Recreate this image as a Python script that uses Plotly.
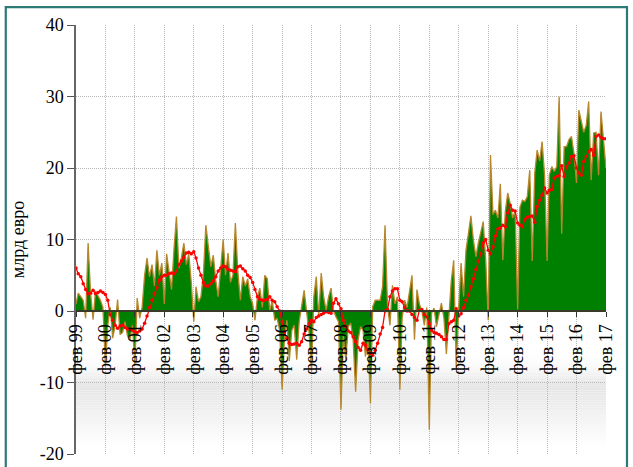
import plotly.graph_objects as go
import pandas as pd

# Monthly balance, bn EUR, Feb 1999 .. Feb 2017
trade_balance = [
    1.0, 2.5, 2.0, 1.5, -1.0, 9.5, 2.5, -1.2, 2.8, 2.2, 1.5, 0.5,
    -7.8, -2.0, 0.5, -3.8, -2.0, 1.6, -3.3, -3.0, -1.5, -3.5, -4.0, -2.0,
    -7.5, 1.8, -1.0, 0.5, 5.0, 7.4, 4.8, 6.5, 3.5, 8.5, 5.0, 6.7,
    1.0, 8.0, 5.5, 3.0, 8.7, 13.2, 6.0, 7.5, 9.5, 6.5, 8.0, 4.0,
    -1.5, 3.4, 1.3, 2.0, 5.3, 12.0, 9.0, 6.2, 7.8, 4.3, 2.0, 6.0,
    10.0, 5.0, 8.1, 4.0, 5.0, 12.3, 5.5, 1.5, 4.8, 3.5, 4.5, 2.0,
    1.0, -1.3, 2.0, 3.2, 0.5, 5.0, 4.5, 0.0, 1.5, -1.3, -1.0, -2.7,
    -11.0, -4.0, -1.3, -7.0, -2.7, -2.0, -6.8, -1.5, 0.8, 2.9, 0.0, -3.0,
    -8.5, 2.0, 4.8, -0.8, 5.3, 2.0, 0.1, 2.0, 3.2, 0.0, -0.8, -1.5,
    -13.8, -3.5, -6.9, -2.2, -1.7, -4.0, -11.3, -4.0, -2.2, -2.7, -6.4, -4.0,
    -12.9, 0.6, 1.5, 1.5, 1.5, 3.4, 12.0, 0.6, -2.0, 3.6, 1.0, 2.0,
    -11.0, -1.0, 1.5, 0.5, 2.5, 5.0, -4.0, 3.0, 1.0, 0.0, -2.0, 0.5,
    -16.6, -0.3, 0.4, -2.2, -0.5, 1.1, -1.0, -6.0, -1.0, 4.3, 7.1, -8.0,
    0.5, 6.7, 2.0, 8.5, 10.9, 13.3, 9.9, 7.6, 9.5, 11.0, 12.5, 7.1,
    -1.3, 21.8, 13.5, 14.1, 13.0, 17.8, 7.1, 14.0, 16.5, 15.0, 13.0, 14.0,
    0.2, 14.5, 15.5, 15.3, 16.0, 19.7, 7.0, 19.3, 22.5, 21.0, 23.7, 19.0,
    7.0, 19.0, 20.2, 19.5, 20.2, 30.0, 10.8, 23.0, 23.0, 24.0, 24.4, 22.0,
    17.9, 28.1, 26.5, 25.0, 26.0, 29.3, 18.3, 24.9, 25.0, 19.0, 27.9, 24.0,
    20.0,
]

# 12-month average line
moving_avg = [
    6.0, 5.2, 4.8, 3.8, 3.0, 2.4, 2.5, 2.9, 2.4, 2.6, 2.8, 2.6,
    2.3, 1.5, -0.5, -1.3, -2.0, -2.4, -2.1, -2.0, -2.3, -2.5, -2.5, -2.7,
    -2.9, -3.0, -2.8, -2.5, -1.7, -0.7, 0.5, 1.5, 2.5, 3.3, 4.3, 4.8,
    5.0, 5.0, 5.2, 5.3, 5.2, 5.6, 6.5, 7.0, 7.5, 8.1, 8.2, 8.0,
    8.3, 7.4, 6.0, 5.0, 4.0, 3.5, 3.5, 3.8, 4.2, 4.8, 5.6, 6.0,
    6.3, 6.2, 5.8, 5.7, 5.6, 5.5, 6.2, 6.3, 5.9, 5.6, 5.0, 4.7,
    4.0, 3.0, 2.0, 1.6, 1.5, 1.5, 1.6, 2.0, 1.5, 1.3, 0.6, 0.0,
    -1.5, -3.0, -3.8, -4.5, -4.7, -4.6, -4.5, -4.8, -4.3, -3.2, -2.5, -1.8,
    -1.3, -1.5, -0.9, -0.7, -0.5, -0.3, -0.1, -0.2, -0.3, 1.1, 1.7, 1.0,
    0.3, -1.3, -2.2, -2.8, -3.0, -3.6, -4.3, -5.1, -5.5, -4.5, -4.8, -5.4,
    -5.9, -6.2, -5.5, -4.5, -3.2, -2.3, 0.0, 0.2, 2.0, 2.8, 3.1, 3.1,
    1.5, 1.3, 0.5, 0.0, 0.0, -0.5, -0.9, -1.3, 0.1, 0.2, -0.5, -0.8,
    -1.8, -2.7, -3.0, -3.1, -3.3, -3.6, -4.0, -4.0, -1.8, -1.5, -1.3, 0.3,
    -0.7, -0.4, 0.5, 1.5, 2.2, 3.4, 4.5, 5.8, 7.0, 8.0, 9.5, 10.0,
    8.5, 8.0, 9.0, 10.5, 11.5, 11.6, 12.0, 11.8, 13.7, 14.8, 14.1, 14.0,
    12.3, 12.0, 11.8, 12.8, 13.1, 13.2, 13.3, 12.4, 14.6, 15.5, 16.2, 17.2,
    16.5, 16.9, 17.0, 18.6, 18.8, 18.9, 20.3, 18.8, 20.2, 20.7, 21.6, 21.7,
    20.0, 19.3, 19.0, 20.9, 21.6, 22.3, 22.6, 21.8, 24.4, 24.6, 24.3, 24.1,
    24.1,
]

tick_labels = ["фев 99", "фев 00", "фев 01", "фев 02", "фев 03", "фев 04",
               "фев 05", "фев 06", "фев 07", "фев 08", "фев 09", "фев 10",
               "фев 11", "фев 12", "фев 13", "фев 14", "фев 15", "фев 16",
               "фев 17"]
y_ticks = [-20, -10, 0, 10, 20, 30, 40]
y_tick_labels = ["-20", "-10", "0", "10", "20", "30", "40"]

months = pd.date_range("1999-02-01", periods=len(trade_balance), freq="MS")
tick_dates = pd.date_range("1999-02-01", periods=len(tick_labels), freq="12MS")

FONT = "Liberation Serif"

fig = go.Figure()
fig.add_trace(go.Scatter(
    x=months, y=trade_balance, mode="lines", fill="tozeroy",
    fillcolor="#008000", line=dict(color="#b8862a", width=1.3),
    hoverinfo="skip", showlegend=False))
fig.add_trace(go.Scatter(
    x=months, y=moving_avg, mode="lines+markers",
    line=dict(color="#ff0000", width=1.3),
    marker=dict(color="#ff0000", size=3.5),
    hoverinfo="skip", showlegend=False))

# soft grey gradient band in the lower part of the plot area
shapes = []
steps = 60
y_top, y_bot = -6.0, -20.0
for i in range(steps):
    a = y_top + (y_bot - y_top) * i / steps
    b = y_top + (y_bot - y_top) * (i + 1) / steps
    mid = (a + b) / 2
    if mid > -10.5:
        t = ((-6.0 - mid) / 4.5) ** 1.5
    else:
        t = max(0.0, 1 - (-10.5 - mid) / 8.5)
    t = max(0.0, min(1.0, t))
    g = int(round(255 - 26 * t))
    shapes.append(dict(type="rect", xref="paper", yref="y", x0=0, x1=1,
                       y0=a, y1=b, fillcolor=f"rgb({g},{g},{g})",
                       line=dict(width=0), layer="below"))
# outer frame
shapes.append(dict(type="rect", xref="paper", yref="paper",
                   x0=-0.1325, x1=1.0396, y0=-0.06, y1=1.0415,
                   line=dict(color="#2b7a78", width=2.2), layer="above"))

fig.update_layout(
    width=633, height=467,
    margin=dict(l=76, r=27, t=25, b=13, autoexpand=False),
    paper_bgcolor="white", plot_bgcolor="white",
    font=dict(family=FONT, color="black", size=17),
    shapes=shapes,
    xaxis=dict(
        range=[months[0], months[-1]],
        tickvals=list(tick_dates), ticktext=tick_labels,
        tickangle=-90, tickfont=dict(family=FONT, size=18, color="black"),
        ticks="outside", ticklen=5, tickcolor="#333",
        showline=True, linecolor="#3a3a2a", linewidth=2,
        anchor="free", position=1/3,
        showgrid=True, gridcolor="#b8b8b8", griddash="1px,1px", gridwidth=1,
        zeroline=False,
    ),
    yaxis=dict(
        range=[-20, 40], tickvals=y_ticks, ticktext=y_tick_labels,
        tickfont=dict(family=FONT, size=18, color="black"),
        ticks="outside", ticklen=7, tickcolor="#555",
        showline=True, linecolor="#666", linewidth=1.5,
        showgrid=True, gridcolor="#b8b8b8", griddash="1px,1px", gridwidth=1,
        zeroline=False,
        title=dict(text="млрд евро", font=dict(family=FONT, size=18),
                   standoff=10),
    ),
)

fig.write_html("out.html", config={"displayModeBar": False},
               post_script="document.body.style.margin='0';")
